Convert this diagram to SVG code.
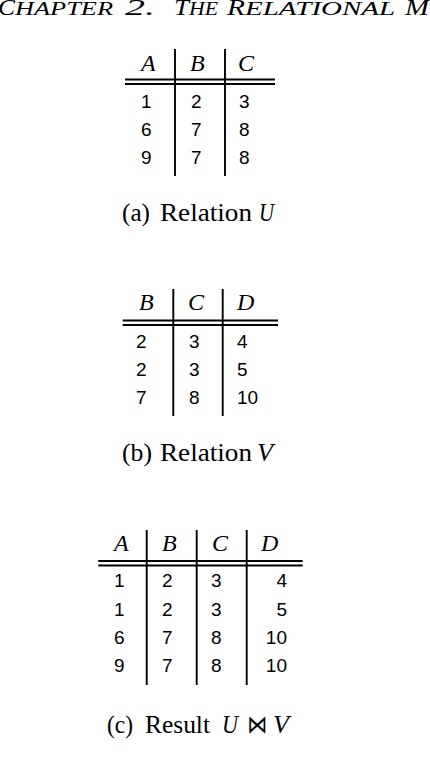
<svg xmlns="http://www.w3.org/2000/svg" width="430" height="767" viewBox="0 0 430 767">
<style>
.bg{fill:#fff}
.ln{stroke:#000;stroke-width:1.9;fill:none}
.h{font-family:"Liberation Serif",serif;font-style:italic;font-size:24px;fill:#000}
.d{font-family:"Liberation Sans",Arial,sans-serif;font-size:19px;fill:#000}
.cap{font-family:"Liberation Serif",serif;font-size:25px;fill:#000}
.mi{font-style:italic}
.sym{font-family:"DejaVu Sans",sans-serif}
.run{font-family:"Liberation Serif",serif;font-style:italic;fill:#000}
</style>
<rect class="bg" x="0" y="0" width="430" height="767"/>
<g id="running-head">
<text class="run" y="15"><tspan x="-2" font-size="24" textLength="17" lengthAdjust="spacingAndGlyphs">C</tspan><tspan x="15" font-size="19" textLength="98" lengthAdjust="spacingAndGlyphs">HAPTER</tspan><tspan x="125" font-size="24" textLength="30" lengthAdjust="spacingAndGlyphs">2.</tspan><tspan x="174" font-size="24" textLength="15" lengthAdjust="spacingAndGlyphs">T</tspan><tspan x="189" font-size="19" textLength="29" lengthAdjust="spacingAndGlyphs">HE</tspan><tspan x="227" font-size="24" textLength="18" lengthAdjust="spacingAndGlyphs">R</tspan><tspan x="245" font-size="19" textLength="150" lengthAdjust="spacingAndGlyphs">ELATIONAL</tspan><tspan x="405" font-size="24" textLength="24" lengthAdjust="spacingAndGlyphs">M</tspan></text>
</g>
<g id="table-u">
<line class="ln" x1="175" y1="49" x2="175" y2="176"/>
<line class="ln" x1="225" y1="49" x2="225" y2="176"/>
<line class="ln" x1="125" y1="79.5" x2="275" y2="79.5"/>
<line class="ln" x1="125" y1="84" x2="275" y2="84"/>
<text class="h" x="141" y="71">A</text>
<text class="h" x="190" y="71">B</text>
<text class="h" x="238" y="71">C</text>
<text class="d" x="141" y="108">1</text><text class="d" x="191" y="108">2</text><text class="d" x="239" y="108">3</text>
<text class="d" x="141" y="136">6</text><text class="d" x="191" y="136">7</text><text class="d" x="239" y="136">8</text>
<text class="d" x="141" y="164">9</text><text class="d" x="191" y="164">7</text><text class="d" x="239" y="164">8</text>
</g>
<g id="caption-a">
<text class="cap" y="221"><tspan x="122" textLength="28" lengthAdjust="spacingAndGlyphs">(a)</tspan><tspan x="160" textLength="92" lengthAdjust="spacingAndGlyphs">Relation</tspan><tspan x="259" class="mi" textLength="15" lengthAdjust="spacingAndGlyphs">U</tspan></text>
</g>
<g id="table-v">
<line class="ln" x1="173.3" y1="289" x2="173.3" y2="416"/>
<line class="ln" x1="222.7" y1="289" x2="222.7" y2="416"/>
<line class="ln" x1="122.7" y1="320.5" x2="278" y2="320.5"/>
<line class="ln" x1="122.7" y1="325" x2="278" y2="325"/>
<text class="h" x="139" y="310">B</text>
<text class="h" x="188" y="310">C</text>
<text class="h" x="237" y="310">D</text>
<text class="d" x="136" y="348">2</text><text class="d" x="189" y="348">3</text><text class="d" x="237" y="348">4</text>
<text class="d" x="136" y="376">2</text><text class="d" x="189" y="376">3</text><text class="d" x="237" y="376">5</text>
<text class="d" x="136" y="404">7</text><text class="d" x="189" y="404">8</text><text class="d" x="237" y="404">10</text>
</g>
<g id="caption-b">
<text class="cap" y="461"><tspan x="122" textLength="30" lengthAdjust="spacingAndGlyphs">(b)</tspan><tspan x="160" textLength="92" lengthAdjust="spacingAndGlyphs">Relation</tspan><tspan x="257" class="mi" textLength="16" lengthAdjust="spacingAndGlyphs">V</tspan></text>
</g>
<g id="table-result">
<line class="ln" x1="146.7" y1="530" x2="146.7" y2="685"/>
<line class="ln" x1="196.7" y1="530" x2="196.7" y2="685"/>
<line class="ln" x1="246.7" y1="530" x2="246.7" y2="685"/>
<line class="ln" x1="98.3" y1="561" x2="302.7" y2="561"/>
<line class="ln" x1="98.3" y1="565.5" x2="302.7" y2="565.5"/>
<text class="h" x="114" y="551">A</text>
<text class="h" x="162" y="551">B</text>
<text class="h" x="212" y="551">C</text>
<text class="h" x="261" y="551">D</text>
<text class="d" x="114" y="587">1</text><text class="d" x="162" y="587">2</text><text class="d" x="211" y="587">3</text><text class="d" x="287" y="587" text-anchor="end">4</text>
<text class="d" x="114" y="615.5">1</text><text class="d" x="162" y="615.5">2</text><text class="d" x="211" y="615.5">3</text><text class="d" x="287" y="615.5" text-anchor="end">5</text>
<text class="d" x="114" y="644">6</text><text class="d" x="162" y="644">7</text><text class="d" x="211" y="644">8</text><text class="d" x="287" y="644" text-anchor="end">10</text>
<text class="d" x="114" y="672">9</text><text class="d" x="162" y="672">7</text><text class="d" x="211" y="672">8</text><text class="d" x="287" y="672" text-anchor="end">10</text>
</g>
<g id="caption-c">
<text class="cap" y="733"><tspan x="107" textLength="26" lengthAdjust="spacingAndGlyphs">(c)</tspan><tspan x="145" textLength="65" lengthAdjust="spacingAndGlyphs">Result</tspan><tspan x="222" class="mi" textLength="16" lengthAdjust="spacingAndGlyphs">U</tspan><tspan x="247" class="sym" textLength="20" lengthAdjust="spacingAndGlyphs">⋈</tspan><tspan x="273" class="mi" textLength="16" lengthAdjust="spacingAndGlyphs">V</tspan></text>
</g>
</svg>
